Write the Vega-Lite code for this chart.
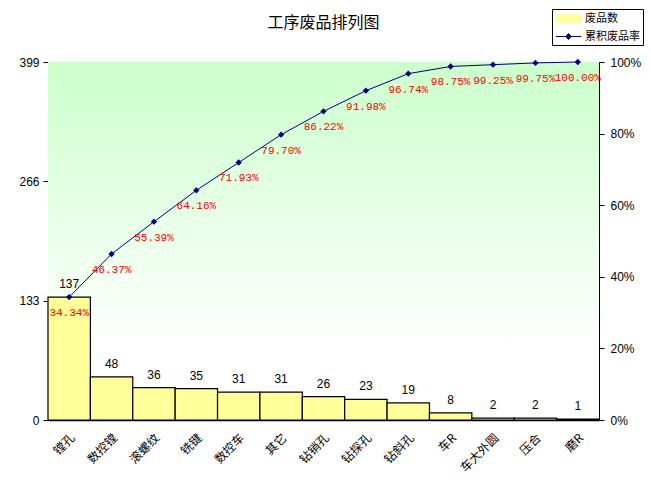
{
  "$schema": "https://vega.github.io/schema/vega-lite/v6.json",
  "width": 551,
  "height": 358,
  "autosize": {"type": "none"},
  "padding": {"left": 48, "top": 62, "right": 52, "bottom": 76},
  "background": "white",
  "title": {"text": "工序废品排列图", "fontSize": 16, "font": "Noto Sans CJK SC", "fontWeight": "normal", "offset": -22, "anchor": "middle", "color": "black"},
  "config": {
    "view": {"stroke": "#808080", "strokeWidth": 1},
    "axis": {"grid": false, "labelFont": "Liberation Sans", "labelFontSize": 12, "labelColor": "black", "domainColor": "black", "tickColor": "black", "title": null}
  },
  "data": {
    "values": [
      {"process": "镗孔", "count": 137, "pct": 0.3434},
      {"process": "数控镗", "count": 48, "pct": 0.4637},
      {"process": "滚螺纹", "count": 36, "pct": 0.5539},
      {"process": "铣键", "count": 35, "pct": 0.6416},
      {"process": "数控车", "count": 31, "pct": 0.7193},
      {"process": "其它", "count": 31, "pct": 0.7970},
      {"process": "钻销孔", "count": 26, "pct": 0.8622},
      {"process": "钻探孔", "count": 23, "pct": 0.9198},
      {"process": "钻斜孔", "count": 19, "pct": 0.9674},
      {"process": "车R", "count": 8, "pct": 0.9875},
      {"process": "车大外圆", "count": 2, "pct": 0.9925},
      {"process": "压合", "count": 2, "pct": 0.9975},
      {"process": "磨R", "count": 1, "pct": 1.0}
    ]
  },
  "encoding": {
    "x": {
      "field": "process", "type": "nominal", "sort": null,
      "scale": {"paddingInner": 0, "paddingOuter": 0},
      "axis": {"labelAngle": -45, "labelAlign": "right", "labelBaseline": "top", "labelPadding": 12, "ticks": false, "labelFont": "Noto Sans CJK SC", "labelFontSize": 12, "domainWidth": 1.5}
    }
  },
  "layer": [
    {
      "layer": [
        {
          "data": {"values": [{"top": 399, "bottom": 0}]},
          "mark": {"type": "rect", "fill": {"gradient": "linear", "x1": 0, "y1": 0, "x2": 0, "y2": 1, "stops": [{"offset": 0, "color": "#ccffcc"}, {"offset": 0.8, "color": "#ffffff"}]}},
          "encoding": {
            "x": null,
            "y": {"field": "top", "type": "quantitative", "scale": {"domain": [0, 399], "nice": false}, "axis": {"values": [0, 133, 266, 399], "tickSize": 5, "labelPadding": 4}},
            "y2": {"field": "bottom"}
          }
        },
        {
          "mark": {"type": "bar", "fill": "#ffff99", "stroke": "black", "strokeWidth": 1.2},
          "encoding": {
            "y": {"field": "count", "type": "quantitative"},
            "color": {"datum": "废品数", "type": "nominal", "scale": {"domain": ["废品数", "累积废品率"], "range": ["#ffff99", "#000080"]},
              "legend": {
                "title": null, "orient": "none", "legendX": 504, "legendY": -53, "strokeColor": "black", "fillColor": "white", "padding": 3, "labelFont": "Noto Sans CJK SC", "labelFontSize": 11, "rowPadding": 5, "symbolSize": 144, "symbolOffset": 7, "labelOffset": 10,
                "symbolType": {"expr": "datum.value === '废品数' ? 'M-2.1,-0.6L2.1,-0.6L2.1,0.6L-2.1,0.6Z' : 'M-2.1,0L-0.45,0L0,-0.5L0.45,0L2.1,0L0.45,0L0,0.5L-0.45,0Z'"},
                "symbolStrokeColor": {"expr": "datum.value === '废品数' ? 'black' : '#000080'"},
                "symbolStrokeWidth": 1,
                "symbolOpacity": 1,
                "encode": {
                  "symbols": {
                    "update": {
                      "shape": {"signal": "datum.value === '废品数' ? 'M-2.1,-0.6L2.1,-0.6L2.1,0.6L-2.1,0.6Z' : 'M-2.1,0L-0.45,0L0,-0.5L0.45,0L2.1,0L0.45,0L0,0.5L-0.45,0Z'"},
                      "stroke": {"signal": "datum.value === '废品数' ? 'black' : '#000080'"},
                      "fill": {"signal": "datum.value === '废品数' ? '#ffff99' : '#000080'"}
                    }
                  }
                }
              }
            }
          }
        },
        {
          "mark": {"type": "text", "dy": -6, "baseline": "bottom", "font": "Liberation Sans", "fontSize": 12, "color": "black"},
          "encoding": {
            "y": {"field": "count", "type": "quantitative"},
            "text": {"field": "count", "type": "quantitative"}
          }
        }
      ]
    },
    {
      "layer": [
        {
          "mark": {"type": "line", "color": "#000080", "strokeWidth": 1, "point": {"shape": "diamond", "filled": true, "size": 40, "color": "#000080"}},
          "encoding": {
            "y": {"field": "pct", "type": "quantitative", "scale": {"domain": [0, 1], "nice": false}, "axis": {"orient": "right", "format": ".0%", "values": [0, 0.2, 0.4, 0.6, 0.8, 1], "tickSize": 5, "labelPadding": 6, "domainColor": "black"}},
            "color": {"datum": "累积废品率", "type": "nominal"}
          }
        },
        {
          "mark": {"type": "text", "dy": 16, "baseline": "middle", "font": "Liberation Mono", "fontSize": 11, "color": "red"},
          "encoding": {
            "y": {"field": "pct", "type": "quantitative"},
            "text": {"field": "pct", "type": "quantitative", "format": ".2%"}
          }
        }
      ]
    }
  ],
  "resolve": {"scale": {"y": "independent", "color": "shared"}}
}
